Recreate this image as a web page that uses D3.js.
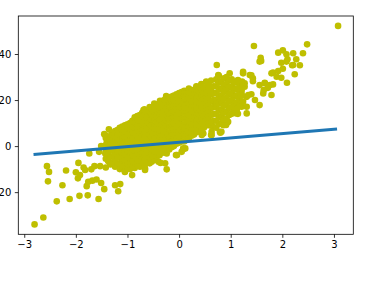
<!DOCTYPE html>
<html>
<head>
<meta charset="utf-8">
<script src="https://cdn.jsdelivr.net/npm/d3@7"></script>
<style>
  body { margin: 0; background: #fff; }
  svg { display: block; }
</style>
</head>
<body>
<svg id="chart" width="366" height="285"></svg>
<script>
// scattered points, [x, y]
const leftPoints = [
  [-2.80,-34],[-2.63,-31],[-2.37,-24],[-2.12,-23],[-1.93,-21.6],[-1.77,-21.4],[-1.56,-23],
  [-1.45,-18.7],[-1.18,-19.6],[-1.24,-17],[-1.14,-16.5],[-2.54,-15.3],[-2.26,-17],
  [-2.56,-8.7],[-2.52,-11.2],[-2.19,-10.6],[-2.00,-11.4],[-1.95,-7.3],[-1.96,-14],
  [-1.85,-9.3],[-1.82,-10.4],[-1.76,-15.5],[-1.68,-15],[-1.60,-14.5],[-1.51,-16],
  [-1.79,-17.4],[-1.64,-8.7],[-1.53,-8.7],[-1.42,-9.3],[-1.34,-7.5],[-1.74,-3.2],
  [-1.92,-12.6],[-1.70,-10.1],
  [-1.45,5.2],[-1.36,7.3],[-1.31,5.5],[-1.10,5.5],[-1.40,1.9],[-1.51,0],[-1.43,-3.2],
  [-1.55,-2.5],[-1.24,1.4],[-1.18,-3.2],[-1.24,-6.8],[-1.05,-11.2],[-1.43,4.8],
  [-1.27,-1.7],[-1.18,-0.3],[-1.08,-1.7],[-1.11,-4.6],[-1.02,-6.1],[-1.05,-8.3],
  [-1.27,-4.6],[-1.34,1.2]
];
const middlePoints = [
  [-0.25,21.7],[-0.37,19.7],[-0.43,17.8],[-0.53,14.9],[-0.69,15.7],[-0.66,13.5],
  [-0.85,10.6],[-0.75,9.9],[0.25,22.9],[0.21,20.7],[-0.08,17.1],[0.05,18.6],[-0.21,15.7],
  [-0.24,-3.2],[-0.04,-3.9],[-0.40,-6.8],[-0.66,-9.7],[-0.24,-10.1],[-0.91,-12.6],
  [-1.04,-10.4],[-0.85,-8.3],[0.08,-1.0],[-0.27,-7.5],[-0.36,-7.3],[-0.53,-6.8],
  [-0.66,-10.4],[-0.69,-7.5],[-0.43,-3.9],[-0.59,-3.2],[0.12,-1.0],[0.05,-2.5],
  [0.08,-1.4],[-0.06,-3.9]
];
const rightPoints = [
  [0.73,35.2],[1.56,36.7],[0.98,31.6],[1.24,32.3],[1.37,30.9],[1.43,29.4],[1.79,31.6],
  [1.66,27.3],[1.76,26.5],[1.56,26.5],[1.63,22.9],[1.79,22.2],[1.47,20],[1.56,17.8],
  [1.31,21.4],[1.18,23.6],[1.27,25.8],[1.14,28.7],[0.95,28.7],[0.89,25.8],[0.76,30.9],
  [0.73,28.7],[0.57,26.5],[0.34,25.8],[0.21,23.6],[1.31,14.2],[1.11,14.2],[0.95,10.6],
  [0.86,9.1],[0.66,8.4],[0.63,6.2],[0.82,6.2],[0.60,9.9],[0.44,8.4],[0.37,10.6],
  [0.25,6.2],[0.18,3.3],[0.82,20],[0.69,18.6],[0.57,17.1],[0.50,21.4],[0.66,22.9],
  [1.08,17.8],[1.21,17.1],[0.93,10.1],[0.80,5.8],[0.63,4.8],[0.47,5.5],[0.28,5.5],
  [3.08,52.2],[2.48,44.2],[1.45,43.5],[1.92,40.6],[2.01,41.6],[2.08,39.9],[2.21,40.3],
  [2.40,40.3],[2.27,37.7],[2.34,35.1],[2.19,35.1],[2.10,37.7],[1.98,36.2],[2.01,33.6],
  [1.58,38.4],[2.24,31.2],[1.82,31.9],[1.92,32.6],[1.89,30.1],[1.98,29.7],[2.09,27.5],
  [1.40,30.7],[1.43,28.2],[1.66,27.5],[1.72,25.3],[1.82,26.8],[1.64,24.3],[1.40,22.5],
  [2.08,36.7],[2.21,35.2],[1.24,31.6],[1.27,27.3],[1.21,23.6],[1.34,22.2],[1.24,19.3],
  [1.31,17.1],[1.59,37.0],[0.91,9.2],[0.60,8.9],[0.44,4.8],[0.62,4.8],[0.79,6.2],
  [1.14,14.0]
];
// the solid core of the cloud, read column by column: [x, [y, ...]]
const coreColumns = [
  [-1.42, [-5.5, -2.5, 0.5, 3.5]],
  [-1.375, [-6.5, -3.5, -0.5, 2.5]],
  [-1.33, [-8, -4.5, -1.5, 1.5, 4]],
  [-1.285, [-7, -4.5, -2, 0.5, 3, 5]],
  [-1.24, [-9, -6, -3.5, -1, 1.5, 4, 6.5]],
  [-1.195, [-8, -5, -2.5, 0, 2.5, 5, 7]],
  [-1.15, [-10, -7.5, -5, -2, 0.5, 3, 5.5, 8]],
  [-1.10, [-9.5, -6.5, -4, -1.5, 1, 3.5, 6, 8.5]],
  [-1.05, [-11, -8.5, -6, -3.5, -1, 1.5, 4, 6.5, 9]],
  [-1.00, [-10, -7.5, -5, -2.5, 0, 2.5, 5, 7.5, 9.5]],
  [-0.95, [-10, -7.5, -5, -2.5, 0, 2.5, 5, 7.5, 10]],
  [-0.905, [-9, -6.5, -4, -1.5, 1, 3.5, 6, 8.5, 11]],
  [-0.86, [-9.5, -7, -4.5, -2, 0.5, 3, 5.5, 8, 10.5, 12.5]],
  [-0.81, [-8.5, -6, -3.5, -1, 1.5, 4, 6.5, 9, 11.5, 13]],
  [-0.76, [-9, -6.5, -4, -1.5, 1, 3.5, 6, 8.5, 11, 13.5]],
  [-0.715, [-8, -5.5, -3, -0.5, 2, 4.5, 7, 9.5, 12, 14.5]],
  [-0.67, [-8.5, -6, -3.5, -1, 1.5, 4, 6.5, 9, 11.5, 14, 16]],
  [-0.62, [-7, -4.5, -2, 0.5, 3, 5.5, 8, 10.5, 13, 15.5]],
  [-0.57, [-7.5, -5, -2.5, 0, 2.5, 5, 7.5, 10, 12.5, 15, 17]],
  [-0.525, [-6, -3.5, -1, 1.5, 4, 6.5, 9, 11.5, 14, 16.5]],
  [-0.48, [-6, -3.5, -1, 1.5, 4, 6.5, 9, 11.5, 14, 16.5, 18.5]],
  [-0.43, [-4.5, -2, 0.5, 3, 5.5, 8, 10.5, 13, 15.5, 17.5]],
  [-0.38, [-4, -1.5, 1, 3.5, 6, 8.5, 11, 13.5, 16, 18.5]],
  [-0.335, [-3, -0.5, 2, 4.5, 7, 9.5, 12, 14.5, 17, 19]],
  [-0.29, [-2.5, 0, 2.5, 5, 7.5, 10, 12.5, 15, 17.5, 20]],
  [-0.24, [-1.5, 1, 3.5, 6, 8.5, 11, 13.5, 16, 18.5, 20.5]],
  [-0.19, [-1.5, 1, 3.5, 6, 8.5, 11, 13.5, 16, 18.5, 21]],
  [-0.145, [-0.5, 2, 4.5, 7, 9.5, 12, 14.5, 17, 19.5, 21.5]],
  [-0.10, [0, 2.5, 5, 7.5, 10, 12.5, 15, 17.5, 20, 22]],
  [-0.05, [1, 3.5, 6, 8.5, 11, 13.5, 16, 18.5, 21, 22.5]],
  [0.00, [1.5, 4, 6.5, 9, 11.5, 14, 16.5, 19, 21.5, 23]],
  [0.05, [2, 4.5, 7, 9.5, 12, 14.5, 17, 19.5, 22, 23.5]],
  [0.10, [2, 4.5, 7, 9.5, 12, 14.5, 17, 19.5, 22, 24]],
  [0.145, [3, 5.5, 8, 10.5, 13, 15.5, 18, 20.5, 23]],
  [0.19, [3.5, 6, 8.5, 11, 13.5, 16, 18.5, 21, 23.5, 25]],
  [0.24, [4.5, 7, 9.5, 12, 14.5, 17, 19.5, 22, 24]],
  [0.29, [5, 7.5, 10, 12.5, 15, 17.5, 20, 22.5, 24.5]],
  [0.335, [6, 8.5, 11, 13.5, 16, 18.5, 21, 23.5, 26]],
  [0.38, [6.5, 9, 11.5, 14, 16.5, 19, 21.5, 24]],
  [0.43, [7, 9.5, 12, 14.5, 17, 19.5, 22, 24.5, 27]],
  [0.48, [8, 10.5, 13, 15.5, 18, 20.5, 23, 25.5]],
  [0.525, [9, 11.5, 14, 17, 20, 23, 25.5, 28]],
  [0.57, [9.5, 12.5, 15.5, 18.5, 21.5, 24.5, 27]],
  [0.62, [10.5, 13.5, 16.5, 19.5, 22.5, 25, 28.5]],
  [0.67, [11, 14, 17, 20, 23, 26]],
  [0.72, [8, 11, 14, 17, 20, 23, 26, 29]],
  [0.77, [9.5, 12.5, 15.5, 18.5, 21.5, 24.5, 27.5, 30.5]],
  [0.82, [10, 13, 16, 19, 22, 25, 28]],
  [0.87, [11.5, 14.5, 17.5, 20.5, 23.5, 26.5, 29.5]],
  [0.92, [12, 15, 18, 21, 24, 27, 30]],
  [0.97, [13.5, 16.5, 19.5, 22.5, 25.5, 28.5]],
  [1.02, [14, 17, 20, 23, 26, 29]],
  [1.07, [15.5, 18.5, 21.5, 24.5, 27.5]],
  [1.12, [16, 19, 22, 25, 28]],
  [1.17, [17.5, 20.5, 23.5, 26.5]],
  [1.22, [19, 22, 25, 28]]
];
// fitted line
const lineX = [-2.82, 3.06];
const lineY = [-3.6, 7.4];
const xTicks = [-3, -2, -1, 0, 1, 2, 3];
const yTicks = [-20, 0, 20, 40];

const points = leftPoints.concat(middlePoints, rightPoints,
  coreColumns.flatMap(c => c[1].map(y => [c[0], y])));

const svg = d3.select("#chart");
const W = 366, H = 285;
const margin = { top: 16, right: 12.7, bottom: 50.7, left: 18.3 };
const width = W - margin.left - margin.right;
const height = H - margin.top - margin.bottom;

// matplotlib style autoscale: data range plus 5% each side
const allX = points.map(p => p[0]).concat(lineX);
const allY = points.map(p => p[1]).concat(lineY);
const pad = (ext) => { const d = (ext[1] - ext[0]) * 0.05; return [ext[0] - d, ext[1] + d]; };

const x = d3.scaleLinear().domain(pad(d3.extent(allX))).range([0, width]);
const y = d3.scaleLinear().domain(pad(d3.extent(allY))).range([height, 0]);

const chart = svg.append("g")
  .attr("transform", `translate(${margin.left}, ${margin.top})`);

chart.append("g")
  .selectAll("circle")
  .data(points)
  .enter()
  .append("circle")
  .attr("cx", d => x(d[0]))
  .attr("cy", d => y(d[1]))
  .attr("r", 3.3)
  .attr("fill", "#bfbf00");

chart.append("path")
  .datum(lineX.map((v, i) => [v, lineY[i]]))
  .attr("fill", "none")
  .attr("stroke", "#1f77b4")
  .attr("stroke-width", 3)
  .attr("d", d3.line().x(d => x(d[0])).y(d => y(d[1])));

const xAxis = chart.append("g")
  .attr("transform", `translate(0, ${height})`)
  .call(d3.axisBottom(x).tickValues(xTicks).tickSize(3.5).tickPadding(3.5).tickFormat(d3.format("d")));

const yAxis = chart.append("g")
  .call(d3.axisLeft(y).tickValues(yTicks).tickSize(3.5).tickPadding(3.5).tickFormat(d3.format("d")));

[xAxis, yAxis].forEach(a => {
  a.select(".domain").remove();
  a.attr("font-family", "'DejaVu Sans', sans-serif").attr("font-size", 10);
  a.selectAll("line").attr("stroke", "#000").attr("stroke-width", 0.8);
  a.selectAll("text").attr("fill", "#000");
});

chart.append("rect")
  .attr("width", width)
  .attr("height", height)
  .attr("fill", "none")
  .attr("stroke", "#000")
  .attr("stroke-width", 0.8);
</script>
</body>
</html>
